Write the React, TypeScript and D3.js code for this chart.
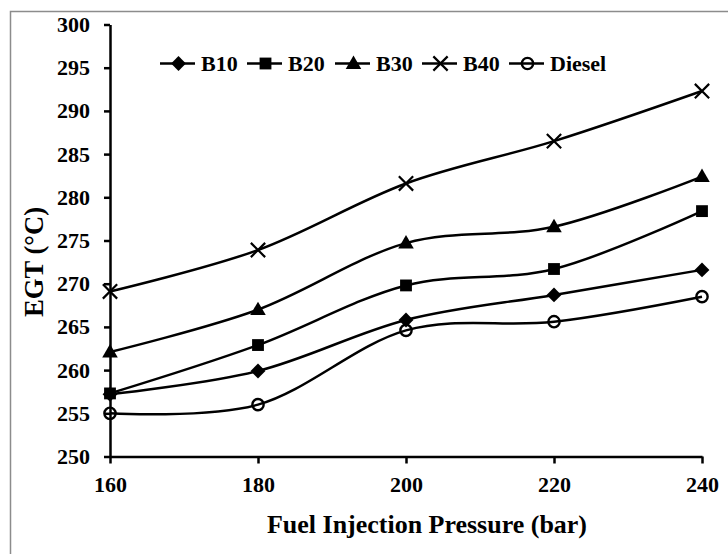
import { useEffect, useRef } from "react";
import * as d3 from "d3";

const pressures = [160, 180, 200, 220, 240];
const b10 = [257.2, 259.9, 265.8, 268.7, 271.6];
const b20 = [257.3, 262.9, 269.8, 271.7, 278.4];
const b30 = [262.1, 267.0, 274.7, 276.6, 282.4];
const b40 = [269.1, 273.9, 281.6, 286.5, 292.3];
const diesel = [255.0, 256.0, 264.6, 265.6, 268.5];
const yTicks = [250, 255, 260, 265, 270, 275, 280, 285, 290, 295, 300];

const series = [
  { name: "B10", values: b10, marker: "diamond" },
  { name: "B20", values: b20, marker: "square" },
  { name: "B30", values: b30, marker: "triangle" },
  { name: "B40", values: b40, marker: "x" },
  { name: "Diesel", values: diesel, marker: "circle" },
];

const W = 728;
const H = 554;
const FONT = "Liberation Serif";

function drawMarker(g: any, kind: string, x: number, y: number) {
  const sym = d3.symbol();
  if (kind === "diamond") {
    g.append("path")
      .attr("d", sym.type(d3.symbolSquare).size(110)())
      .attr("transform", `translate(${x},${y}) rotate(45)`)
      .attr("fill", "#000");
  } else if (kind === "square") {
    g.append("path")
      .attr("d", sym.type(d3.symbolSquare).size(140)())
      .attr("transform", `translate(${x},${y})`)
      .attr("fill", "#000");
  } else if (kind === "triangle") {
    g.append("path")
      .attr("d", sym.type(d3.symbolTriangle).size(105)())
      .attr("transform", `translate(${x},${y + 1})`)
      .attr("fill", "#000");
  } else if (kind === "x") {
    g.append("path")
      .attr("d", sym.type(d3.symbolX).size(135)())
      .attr("transform", `translate(${x},${y})`)
      .attr("fill", "none")
      .attr("stroke", "#000")
      .attr("stroke-width", 2.2);
  } else {
    g.append("path")
      .attr("d", sym.type(d3.symbolCircle).size(100)())
      .attr("transform", `translate(${x},${y})`)
      .attr("fill", "none")
      .attr("stroke", "#000")
      .attr("stroke-width", 2.4);
  }
}

function styleText(sel: any, size: number) {
  sel.attr("fill", "#000")
    .attr("font-family", FONT)
    .attr("font-weight", "bold")
    .attr("font-size", size)
    .style("font-family", FONT)
    .style("font-weight", "bold")
    .style("font-size", size + "px");
}

export default function App() {
  const ref = useRef<SVGSVGElement>(null);

  useEffect(() => {
    const svg = d3.select(ref.current);
    svg.selectAll("*").remove();

    const x = d3.scaleLinear().domain([160, 240]).range([110, 702]);
    const y = d3.scaleLinear().domain([250, 300]).range([456.5, 24.5]);

    // outer chart frame
    svg.append("rect")
      .attr("x", 10.5).attr("y", 11.5)
      .attr("width", 740).attr("height", 560)
      .attr("fill", "#fff")
      .attr("stroke", "#8c8c8c")
      .attr("stroke-width", 1.5);

    const yAxis = svg.append("g")
      .attr("transform", `translate(${x(160)},0)`)
      .call(d3.axisLeft(y).tickValues(yTicks).tickSize(6).tickSizeOuter(0).tickPadding(14));
    const xAxis = svg.append("g")
      .attr("transform", `translate(0,${y(250)})`)
      .call(d3.axisBottom(x).tickValues(pressures).tickSize(7).tickSizeOuter(0).tickPadding(13));

    [yAxis, xAxis].forEach((ax) => {
      ax.attr("font-family", FONT);
      ax.selectAll("path, line").attr("stroke", "#000").attr("stroke-width", 2.5);
      styleText(ax.selectAll("text"), 22);
    });

    const line = d3.line<number>()
      .x((_, i) => x(pressures[i]))
      .y((d) => y(d))
      .curve(d3.curveCardinal.tension(0));

    series.forEach((s) => {
      svg.append("path")
        .datum(s.values)
        .attr("fill", "none")
        .attr("stroke", "#000")
        .attr("stroke-width", 2.5)
        .attr("d", line);
    });
    series.forEach((s) => {
      const g = svg.append("g");
      s.values.forEach((v, i) => drawMarker(g, s.marker, x(pressures[i]), y(v)));
    });

    // legend
    const legendX = [160, 247, 335, 422, 509];
    const ly = 63.5;
    series.forEach((s, i) => {
      const g = svg.append("g").attr("transform", `translate(${legendX[i]},${ly})`);
      g.append("line")
        .attr("x1", 0).attr("x2", 35)
        .attr("stroke", "#000").attr("stroke-width", 2.5);
      drawMarker(g, s.marker, 18.5, 0);
      const t = g.append("text")
        .attr("x", 41).attr("y", 7.5)
        .text(s.name);
      styleText(t, 22);
    });

    // axis titles
    const xt = svg.append("text")
      .attr("x", 427).attr("y", 533)
      .attr("text-anchor", "middle")
      .attr("textLength", 320)
      .attr("lengthAdjust", "spacingAndGlyphs")
      .text("Fuel Injection Pressure  (bar)");
    styleText(xt, 26);

    const yt = svg.append("text")
      .attr("transform", `translate(43,262) rotate(-90)`)
      .attr("text-anchor", "middle")
      .attr("textLength", 110)
      .attr("lengthAdjust", "spacingAndGlyphs")
      .text("EGT (°C)");
    styleText(yt, 27);
  }, []);

  return (
    <div style={{ position: "absolute", left: 0, top: 0 }}>
      <svg ref={ref} width={W} height={H} style={{ display: "block" }}></svg>
    </div>
  );
}
